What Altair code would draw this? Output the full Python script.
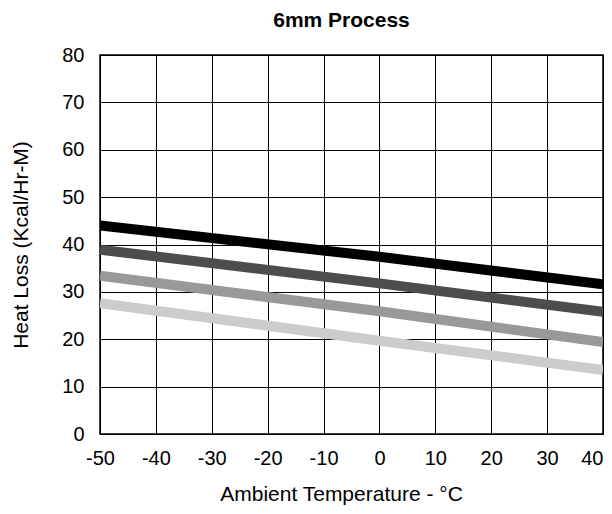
import altair as alt
import pandas as pd

temps = [-50, 0, 40]
black_vals = [44.0, 37.4, 31.6]
dark_vals = [38.9, 31.8, 25.8]
mid_vals = [33.4, 25.9, 19.4]
light_vals = [27.6, 19.7, 13.5]

series_names = ["A", "B", "C", "D"]
series_vals = [black_vals, dark_vals, mid_vals, light_vals]
series_colors = ["#000000", "#4d4d4d", "#999999", "#cccccc"]

x_ticks = list(range(-50, 41, 10))
y_ticks = list(range(0, 81, 10))

rows = []
for name, vals in zip(series_names, series_vals):
    for t, v in zip(temps, vals):
        rows.append({"temp": t, "loss": v, "series": name})
df = pd.DataFrame(rows)

font = "Liberation Sans"

chart = alt.Chart(df).mark_line(strokeWidth=10, strokeCap="butt", clip=True).encode(
    x=alt.X("temp:Q",
            scale=alt.Scale(domain=[-50, 40], nice=False, zero=False),
            axis=alt.Axis(values=x_ticks, title="Ambient Temperature - °C",
                          labelExpr="'' + datum.value",
                          grid=True, gridColor="#000000", gridOpacity=1, gridWidth=1,
                          domain=False, ticks=False, labelPadding=14,
                          labelAlign=alt.condition("datum.value == 40", alt.value("right"), alt.value("center")),
                          labelFont=font, labelFontSize=20, labelColor="#000000",
                          labelFlush=False, labelOverlap=False,
                          titleFont=font, titleFontSize=21, titleFontWeight="normal",
                          titleColor="#000000", titlePadding=15, titleX=241)),
    y=alt.Y("loss:Q",
            scale=alt.Scale(domain=[0, 80], nice=False),
            axis=alt.Axis(values=y_ticks, title="Heat Loss (Kcal/Hr-M)",
                          grid=True, gridColor="#000000", gridOpacity=1, gridWidth=1,
                          domain=False, ticks=False, labelPadding=16,
                          labelFont=font, labelFontSize=20, labelColor="#000000",
                          titleFont=font, titleFontSize=21, titleFontWeight="normal",
                          titleColor="#000000", titlePadding=30)),
    color=alt.Color("series:N", scale=alt.Scale(domain=series_names, range=series_colors), legend=None),
).properties(
    width=503,
    height=379,
    title=alt.TitleParams("6mm Process", font=font, fontSize=21, fontWeight="bold",
                          color="#000000", anchor="middle", offset=14, dx=-10),
    autosize=alt.AutoSizeParams(type="none"),
    padding={"left": 92, "top": 47, "right": 1, "bottom": 72},
).configure_view(
    stroke="#000000", strokeWidth=1.5
)

chart.save("out.html", embed_options={"renderer": "svg", "actions": False})
